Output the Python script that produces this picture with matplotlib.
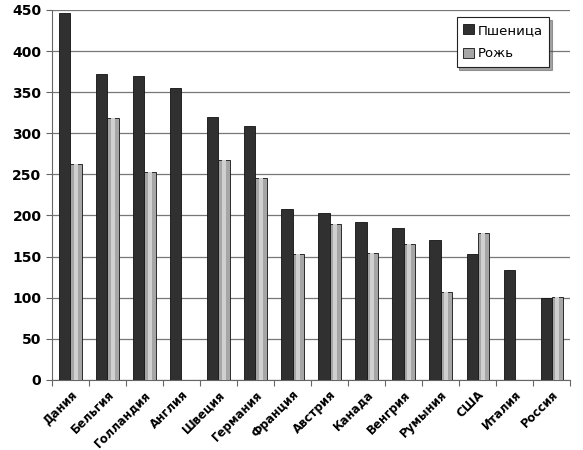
import numpy as np
import matplotlib
matplotlib.use("Agg")
import matplotlib.pyplot as plt

countries = ["Дания", "Бельгия", "Голландия", "Англия", "Швеция", "Германия",
             "Франция", "Австрия", "Канада", "Венгрия", "Румыния", "США",
             "Италия", "Россия"]
wheat = [446, 372, 370, 355, 320, 309, 208, 203, 192, 185, 170, 153, 134, 100]
rye = [262, 319, 253, 0, 267, 246, 153, 190, 154, 165, 107, 178, 0, 101]

plt.rcParams["font.family"] = ["DejaVu Sans"]

fig = plt.figure(figsize=(5.83, 4.5), dpi=100)
ax = fig.add_axes([0.089, 0.156, 0.889, 0.822])

x = np.arange(len(countries))
w = 0.3
ax.bar(x - w/2, wheat, w, color="#303030", edgecolor="#111111", lw=0.6,
       label="Пшеница", zorder=3)
ax.bar(x + w/2, rye, w, color="#a6a6a6", edgecolor="#111111", lw=0.6,
       label="Рожь", zorder=3)
# lighter stripe inside rye bars
ax.bar(x + w/2, rye, w * 0.35, color="#d0d0d0", lw=0, zorder=4)

ax.set_xlim(-0.5, len(countries) - 0.5)
ax.set_ylim(0, 450)
ax.set_yticks(np.arange(0, 451, 50))
ax.yaxis.grid(True, color="#777777", lw=0.9, zorder=0)
ax.set_xticks(np.arange(len(countries) + 1) - 0.5, minor=False)
ax.set_xticklabels([])
ax.set_xticks(x, minor=True)
ax.set_xticklabels(countries, minor=True, rotation=45, ha="right",
                   rotation_mode="anchor", fontsize=8.5, fontweight="bold")
ax.tick_params(axis="x", which="minor", length=0, pad=6)
ax.tick_params(axis="x", which="major", length=4, color="#666666")
ax.tick_params(axis="y", labelsize=10, length=4, color="#666666")
for lab in ax.get_yticklabels():
    lab.set_fontweight("bold")

for s in ["top", "right"]:
    ax.spines[s].set_visible(False)
for s in ["left", "bottom"]:
    ax.spines[s].set_color("#666666")

leg = ax.legend(loc="upper right", bbox_to_anchor=(0.96, 0.98), borderaxespad=0,
                frameon=True, fancybox=False, shadow=True, handlelength=0.8,
                handleheight=0.8, handletextpad=0.3, borderpad=0.5,
                labelspacing=0.8, prop={"size": 9.5})
leg.get_frame().set_edgecolor("#222222")
leg.get_frame().set_linewidth(0.8)

fig.savefig("out.png", dpi=100)
